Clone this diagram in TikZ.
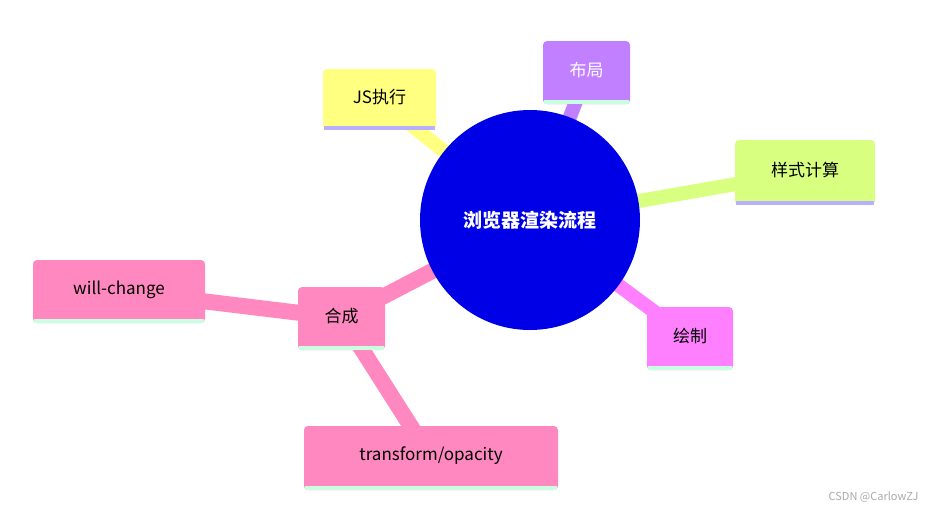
\documentclass[tikz,border=0pt]{standalone}
\usepackage{fontspec}
\setmainfont{Noto Sans CJK SC}
\begin{document}
\begin{tikzpicture}[x=1pt,y=-1pt,
  box/.style={rounded corners=4pt,inner sep=0pt,font=\fontsize{17}{20}\selectfont},
  link/.style={line width=#1},
  strip/.style={line width=4pt}]
\definecolor{cyel}{HTML}{FFFF80}\definecolor{cpur}{HTML}{C080FF}
\definecolor{cgrn}{HTML}{D9FF80}\definecolor{cmag}{HTML}{FF80FF}
\definecolor{cpnk}{HTML}{FF88C0}\definecolor{clav}{HTML}{B8B0FF}
\definecolor{cmint}{HTML}{C8FFE0}
\useasboundingbox (0,0) rectangle (927,515);
\coordinate (c) at (530,220);
\coordinate (js) at (380,100);
\coordinate (bj) at (587,73);
\coordinate (ys) at (805,172);
\coordinate (hz) at (690,338);
\coordinate (hc) at (342,318);
\coordinate (wc) at (119,291);
\coordinate (tf) at (431,458);
% links
\draw[link=14pt,cyel] (c) -- (js);
\draw[link=14pt,cpur] (c) -- (bj);
\draw[link=14pt,cgrn] (c) -- (ys);
\draw[link=14pt,cmag] (c) -- (hz);
\draw[link=16pt,cpnk] (c) -- (hc);
\draw[link=16pt,cpnk] (hc) -- (wc);
\draw[link=16pt,cpnk] (hc) -- (tf);
% center
\node[circle,fill={rgb,255:red,0;green,0;blue,230},minimum size=220pt,text=white,font=\fontsize{19}{22}\selectfont\bfseries] (ctr) at (c) {浏览器渲染流程};
% boxes
\def\bx#1#2#3#4#5#6#7#8{\fill[#5,rounded corners=4pt] (#1,#2) rectangle (#3,#4);
 \draw[strip,#6] (#1+1,#4-2) -- (#3-1,#4-2);
 \node[box,text=#7] (#8) at ({(#1+#3)/2},{(#2+#4)/2-2})}
\bx{323}{69}{436}{130}{cyel}{clav}{black}{njs} {JS执行};
\bx{543}{41}{630}{104}{cpur}{cmint}{white}{nbj} {布局};
\bx{735}{140}{875}{205}{cgrn}{clav}{black}{nys} {样式计算};
\bx{647}{307}{733}{370}{cmag}{cmint}{black}{nhz} {绘制};
\bx{298}{287}{385}{350}{cpnk}{cmint}{black}{nhc} {合成};
\bx{33}{260}{205}{323}{cpnk}{cmint}{black}{nwc} {will-change};
\bx{304}{426}{558}{490}{cpnk}{cmint}{black}{ntf} {transform/opacity};
\node[text={rgb,255:red,170;green,170;blue,170},font=\fontsize{11}{13}\selectfont,anchor=east] (wm) at (922,497) {CSDN @CarlowZJ};
\end{tikzpicture}
\end{document}
